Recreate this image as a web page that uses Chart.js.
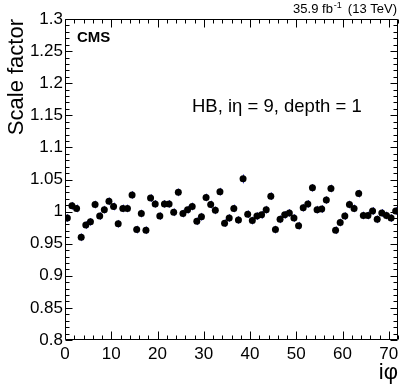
<!DOCTYPE html>
<html>
<head>
<meta charset="utf-8">
<script src="https://cdn.jsdelivr.net/npm/chart.js@4.4.1/dist/chart.umd.min.js"></script>
<style>
  html, body { margin: 0; padding: 0; background: #fff; }
  #wrap { width: 407px; height: 391px; }
</style>
</head>
<body>
<div id="wrap"><canvas id="sfChart" width="407" height="391"></canvas></div>
<script>
const FONT = "'Liberation Sans', Arial, Helvetica, sans-serif";

const iphi = [1, 2, 3, 4, 5, 6, 7, 8, 9, 10, 11, 12, 13, 14, 15, 16, 17, 18,
  19, 20, 21, 22, 23, 24, 25, 26, 27, 28, 29, 30, 31, 32, 33, 34, 35, 36,
  37, 38, 39, 40, 41, 42, 43, 44, 45, 46, 47, 48, 49, 50, 51, 52, 53, 54,
  55, 56, 57, 58, 59, 60, 61, 62, 63, 64, 65, 66, 67, 68, 69, 70, 71, 72];

const scaleFactor = [0.990, 1.009, 1.005, 0.960, 0.979, 0.984, 1.011, 0.993, 1.003,
  1.016, 1.008, 0.981, 1.005, 1.005, 1.026, 0.972, 0.997, 0.971,
  1.021, 1.012, 0.993, 1.012, 1.012, 0.999, 1.030, 0.997, 1.003,
  1.008, 0.985, 0.992, 1.022, 1.011, 1.002, 1.031, 0.982, 0.990,
  1.005, 0.987, 1.051, 0.996, 0.986, 0.993, 0.995, 1.003, 1.024,
  0.972, 0.988, 0.995, 0.998, 0.990, 0.978, 1.006, 1.012, 1.037,
  1.003, 1.004, 1.018, 1.036, 0.971, 0.983, 0.993, 1.011, 1.005,
  1.028, 0.994, 0.994, 1.001, 0.988, 0.998, 0.994, 0.990, 1.001];

const sfError = [0.006, 0.006, 0.006, 0.006, 0.006, 0.006, 0.006, 0.006, 0.006,
  0.006, 0.006, 0.006, 0.006, 0.006, 0.006, 0.006, 0.006, 0.006,
  0.006, 0.006, 0.006, 0.006, 0.006, 0.006, 0.006, 0.006, 0.006,
  0.006, 0.006, 0.006, 0.006, 0.006, 0.006, 0.006, 0.006, 0.006,
  0.006, 0.006, 0.007, 0.006, 0.006, 0.006, 0.006, 0.006, 0.006,
  0.006, 0.006, 0.006, 0.006, 0.006, 0.006, 0.006, 0.006, 0.006,
  0.006, 0.006, 0.006, 0.006, 0.006, 0.006, 0.006, 0.006, 0.006,
  0.006, 0.006, 0.006, 0.006, 0.006, 0.006, 0.006, 0.006, 0.006];

const xTicks = [0, 10, 20, 30, 40, 50, 60, 70];
const yTicks = [0.8, 0.85, 0.9, 0.95, 1, 1.05, 1.1, 1.15, 1.2, 1.25, 1.3];

// each iphi bin is one unit wide, point sits at the bin centre
const points = iphi.map((p, i) => ({ x: p - 0.5, y: scaleFactor[i] }));

const errorBars = {
  id: 'errorBars',
  beforeDatasetsDraw(chart) {
    const { ctx, scales: { x, y } } = chart;
    ctx.save();
    ctx.strokeStyle = '#3c3cd2';
    ctx.lineWidth = 1;
    ctx.beginPath();
    points.forEach((p, i) => {
      const px = Math.round(x.getPixelForValue(p.x)) + 0.5;
      ctx.moveTo(px, y.getPixelForValue(p.y - sfError[i]));
      ctx.lineTo(px, y.getPixelForValue(p.y + sfError[i]));
    });
    ctx.stroke();
    ctx.restore();
  }
};

const frameTicks = {
  id: 'frameTicks',
  afterDraw(chart) {
    const { ctx, chartArea: a, scales: { x, y } } = chart;
    const l = Math.round(a.left) + 0.5, r = Math.round(a.right) - 0.5;
    const t = Math.round(a.top) + 0.5, b = Math.round(a.bottom) - 0.5;
    ctx.save();
    ctx.strokeStyle = '#000';
    ctx.lineWidth = 1;
    ctx.beginPath();
    ctx.rect(l, t, r - l, b - t);
    // x ticks, major every 10, minor every 2
    for (let v = 0; v <= 72; v += 2) {
      const px = Math.round(x.getPixelForValue(v)) + 0.5;
      const len = v % 10 === 0 ? 8 : 4;
      ctx.moveTo(px, b); ctx.lineTo(px, b - len);
      ctx.moveTo(px, t); ctx.lineTo(px, t + len);
    }
    // y ticks, major every 0.05, minor every 0.01
    for (let k = 80; k <= 130; k++) {
      const py = Math.round(y.getPixelForValue(k / 100)) + 0.5;
      const len = k % 5 === 0 ? 7 : 4;
      ctx.moveTo(l, py); ctx.lineTo(l + len, py);
      ctx.moveTo(r, py); ctx.lineTo(r - len, py);
    }
    ctx.stroke();

    ctx.fillStyle = '#000';
    ctx.textBaseline = 'alphabetic';
    ctx.font = 'bold 15px ' + FONT;
    ctx.textAlign = 'left';
    ctx.fillText('CMS', 77, 42);

    ctx.font = '18.5px ' + FONT;
    ctx.fillText('HB, i\u03b7 = 9, depth = 1', 192, 112);

    // lumi label, drawn right to left
    ctx.textAlign = 'right';
    ctx.font = '13px ' + FONT;
    let xr = 397;
    ctx.fillText('(13 TeV)', xr, 13);
    xr -= ctx.measureText('(13 TeV)').width + 6;
    ctx.font = '9px ' + FONT;
    ctx.fillText('-1', xr, 8);
    xr -= ctx.measureText('-1').width + 1;
    ctx.font = '13px ' + FONT;
    ctx.fillText('35.9 fb', xr, 13);
    ctx.restore();
  }
};

new Chart(document.getElementById('sfChart'), {
  type: 'scatter',
  data: {
    datasets: [{
      data: points,
      showLine: false,
      pointRadius: 3.5,
      pointHoverRadius: 3.5,
      pointBackgroundColor: '#000',
      pointBorderColor: '#000',
      pointBorderWidth: 0
    }]
  },
  options: {
    responsive: false,
    animation: false,
    layout: { padding: { top: 19, right: 9, left: 0, bottom: 0 } },
    plugins: { legend: { display: false }, tooltip: { enabled: false } },
    scales: {
      x: {
        type: 'linear',
        min: 0,
        max: 72,
        afterFit: s => { s.height = 51; },
        afterBuildTicks: s => { s.ticks = xTicks.map(v => ({ value: v })); },
        grid: { display: false, drawTicks: false },
        border: { display: false },
        ticks: { color: '#000', padding: 4, maxRotation: 0, font: { family: FONT, size: 17 } },
        title: {
          display: true, text: 'i\u03c6', align: 'end', color: '#000',
          padding: { top: 0, bottom: 5 },
          font: { family: FONT, size: 22 }
        }
      },
      y: {
        min: 0.8,
        max: 1.3,
        afterFit: s => { s.width = 65; },
        afterBuildTicks: s => { s.ticks = yTicks.map(v => ({ value: v })); },
        grid: { display: false, drawTicks: false },
        border: { display: false },
        ticks: {
          color: '#000', padding: 2, font: { family: FONT, size: 17 },
          callback: v => String(v)
        },
        title: {
          display: true, text: 'Scale factor', align: 'end', color: '#000',
          padding: { top: 4, bottom: 0 },
          font: { family: FONT, size: 22 }
        }
      }
    }
  },
  plugins: [errorBars, frameTicks]
});
</script>
</body>
</html>
